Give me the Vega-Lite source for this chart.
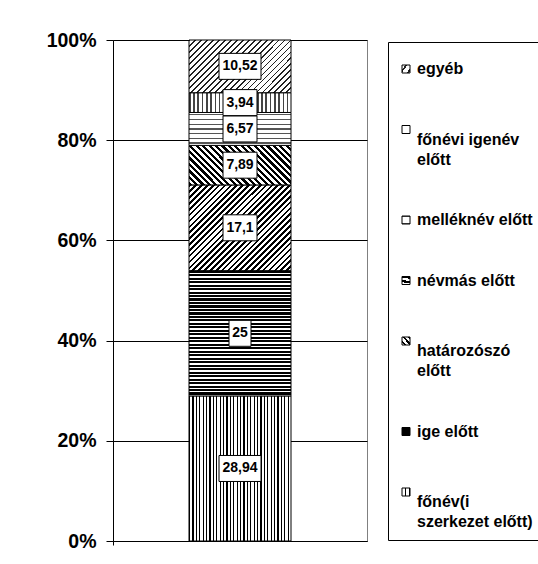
{
"$schema":"https://vega.github.io/schema/vega-lite/v6.json",
"width":254,"height":501,
"autosize":{"type":"none"},
"padding":{"left":113,"top":40,"right":171,"bottom":23},
"background":"white",
"config":{"view":{"stroke":"#808080","strokeWidth":1},"font":"Liberation Sans","locale":{"number":{"decimal":",","thousands":" ","grouping":[3],"currency":[""," Ft"]}},
"axisY":{"title":null,"format":"%","tickCount":5,"labelFont":"Liberation Sans","labelFontSize":19.5,"labelFontWeight":"bold","labelColor":"black","labelPadding":10,"labelFlush":false,"labelOverlap":false,"tickSize":7,"tickColor":"black","domainColor":"black","grid":true,"gridColor":"black"}},
"params":[
{"name":"gEgyeb","value":{"gradient":"linear","x1":-0.099,"y1":0.191,"x2":1.099,"y2":0.809,"stops":[
{"offset":0,"color":"#222"},{"offset":0.0115,"color":"#222"},{"offset":0.0115,"color":"#fff"},{"offset":0.0385,"color":"#fff"},
{"offset":0.0385,"color":"#222"},{"offset":0.05,"color":"#222"},{"offset":0.05,"color":"#fff"},{"offset":0.0769,"color":"#fff"},
{"offset":0.0769,"color":"#222"},{"offset":0.0884,"color":"#222"},{"offset":0.0884,"color":"#fff"},{"offset":0.1154,"color":"#fff"},
{"offset":0.1154,"color":"#222"},{"offset":0.1269,"color":"#222"},{"offset":0.1269,"color":"#fff"},{"offset":0.1538,"color":"#fff"},
{"offset":0.1538,"color":"#222"},{"offset":0.1653,"color":"#222"},{"offset":0.1653,"color":"#fff"},{"offset":0.1923,"color":"#fff"},
{"offset":0.1923,"color":"#222"},{"offset":0.2038,"color":"#222"},{"offset":0.2038,"color":"#fff"},{"offset":0.2308,"color":"#fff"},
{"offset":0.2308,"color":"#222"},{"offset":0.2423,"color":"#222"},{"offset":0.2423,"color":"#fff"},{"offset":0.2692,"color":"#fff"},
{"offset":0.2692,"color":"#222"},{"offset":0.2807,"color":"#222"},{"offset":0.2807,"color":"#fff"},{"offset":0.3077,"color":"#fff"},
{"offset":0.3077,"color":"#222"},{"offset":0.3192,"color":"#222"},{"offset":0.3192,"color":"#fff"},{"offset":0.3462,"color":"#fff"},
{"offset":0.3462,"color":"#222"},{"offset":0.3577,"color":"#222"},{"offset":0.3577,"color":"#fff"},{"offset":0.3846,"color":"#fff"},
{"offset":0.3846,"color":"#222"},{"offset":0.3961,"color":"#222"},{"offset":0.3961,"color":"#fff"},{"offset":0.4231,"color":"#fff"},
{"offset":0.4231,"color":"#222"},{"offset":0.4346,"color":"#222"},{"offset":0.4346,"color":"#fff"},{"offset":0.4615,"color":"#fff"},
{"offset":0.4615,"color":"#222"},{"offset":0.473,"color":"#222"},{"offset":0.473,"color":"#fff"},{"offset":0.5,"color":"#fff"},
{"offset":0.5,"color":"#222"},{"offset":0.5115,"color":"#222"},{"offset":0.5115,"color":"#fff"},{"offset":0.5385,"color":"#fff"},
{"offset":0.5385,"color":"#222"},{"offset":0.55,"color":"#222"},{"offset":0.55,"color":"#fff"},{"offset":0.5769,"color":"#fff"},
{"offset":0.5769,"color":"#222"},{"offset":0.5884,"color":"#222"},{"offset":0.5884,"color":"#fff"},{"offset":0.6154,"color":"#fff"},
{"offset":0.6154,"color":"#222"},{"offset":0.6269,"color":"#222"},{"offset":0.6269,"color":"#fff"},{"offset":0.6538,"color":"#fff"},
{"offset":0.6538,"color":"#222"},{"offset":0.6653,"color":"#222"},{"offset":0.6653,"color":"#fff"},{"offset":0.6923,"color":"#fff"},
{"offset":0.6923,"color":"#222"},{"offset":0.7038,"color":"#222"},{"offset":0.7038,"color":"#fff"},{"offset":0.7308,"color":"#fff"},
{"offset":0.7308,"color":"#222"},{"offset":0.7423,"color":"#222"},{"offset":0.7423,"color":"#fff"},{"offset":0.7692,"color":"#fff"},
{"offset":0.7692,"color":"#222"},{"offset":0.7807,"color":"#222"},{"offset":0.7807,"color":"#fff"},{"offset":0.8077,"color":"#fff"},
{"offset":0.8077,"color":"#222"},{"offset":0.8192,"color":"#222"},{"offset":0.8192,"color":"#fff"},{"offset":0.8462,"color":"#fff"},
{"offset":0.8462,"color":"#222"},{"offset":0.8577,"color":"#222"},{"offset":0.8577,"color":"#fff"},{"offset":0.8846,"color":"#fff"},
{"offset":0.8846,"color":"#222"},{"offset":0.8961,"color":"#222"},{"offset":0.8961,"color":"#fff"},{"offset":0.9231,"color":"#fff"},
{"offset":0.9231,"color":"#222"},{"offset":0.9346,"color":"#222"},{"offset":0.9346,"color":"#fff"},{"offset":0.9615,"color":"#fff"},
{"offset":0.9615,"color":"#222"},{"offset":0.973,"color":"#222"},{"offset":0.973,"color":"#fff"},{"offset":1,"color":"#fff"}]}},
{"name":"gFonevi","value":{"gradient":"linear","x1":0,"y1":0,"x2":1,"y2":0,"stops":[
{"offset":0,"color":"#444"},{"offset":0.0167,"color":"#444"},{"offset":0.0167,"color":"#fff"},{"offset":0.0417,"color":"#fff"},
{"offset":0.0417,"color":"#444"},{"offset":0.0584,"color":"#444"},{"offset":0.0584,"color":"#fff"},{"offset":0.0833,"color":"#fff"},
{"offset":0.0833,"color":"#444"},{"offset":0.1,"color":"#444"},{"offset":0.1,"color":"#fff"},{"offset":0.125,"color":"#fff"},
{"offset":0.125,"color":"#444"},{"offset":0.1417,"color":"#444"},{"offset":0.1417,"color":"#fff"},{"offset":0.1667,"color":"#fff"},
{"offset":0.1667,"color":"#444"},{"offset":0.1834,"color":"#444"},{"offset":0.1834,"color":"#fff"},{"offset":0.2083,"color":"#fff"},
{"offset":0.2083,"color":"#444"},{"offset":0.225,"color":"#444"},{"offset":0.225,"color":"#fff"},{"offset":0.25,"color":"#fff"},
{"offset":0.25,"color":"#444"},{"offset":0.2667,"color":"#444"},{"offset":0.2667,"color":"#fff"},{"offset":0.2917,"color":"#fff"},
{"offset":0.2917,"color":"#444"},{"offset":0.3084,"color":"#444"},{"offset":0.3084,"color":"#fff"},{"offset":0.3333,"color":"#fff"},
{"offset":0.3333,"color":"#444"},{"offset":0.35,"color":"#444"},{"offset":0.35,"color":"#fff"},{"offset":0.375,"color":"#fff"},
{"offset":0.375,"color":"#444"},{"offset":0.3917,"color":"#444"},{"offset":0.3917,"color":"#fff"},{"offset":0.4167,"color":"#fff"},
{"offset":0.4167,"color":"#444"},{"offset":0.4334,"color":"#444"},{"offset":0.4334,"color":"#fff"},{"offset":0.4583,"color":"#fff"},
{"offset":0.4583,"color":"#444"},{"offset":0.475,"color":"#444"},{"offset":0.475,"color":"#fff"},{"offset":0.5,"color":"#fff"},
{"offset":0.5,"color":"#444"},{"offset":0.5167,"color":"#444"},{"offset":0.5167,"color":"#fff"},{"offset":0.5417,"color":"#fff"},
{"offset":0.5417,"color":"#444"},{"offset":0.5584,"color":"#444"},{"offset":0.5584,"color":"#fff"},{"offset":0.5833,"color":"#fff"},
{"offset":0.5833,"color":"#444"},{"offset":0.6,"color":"#444"},{"offset":0.6,"color":"#fff"},{"offset":0.625,"color":"#fff"},
{"offset":0.625,"color":"#444"},{"offset":0.6417,"color":"#444"},{"offset":0.6417,"color":"#fff"},{"offset":0.6667,"color":"#fff"},
{"offset":0.6667,"color":"#444"},{"offset":0.6834,"color":"#444"},{"offset":0.6834,"color":"#fff"},{"offset":0.7083,"color":"#fff"},
{"offset":0.7083,"color":"#444"},{"offset":0.725,"color":"#444"},{"offset":0.725,"color":"#fff"},{"offset":0.75,"color":"#fff"},
{"offset":0.75,"color":"#444"},{"offset":0.7667,"color":"#444"},{"offset":0.7667,"color":"#fff"},{"offset":0.7917,"color":"#fff"},
{"offset":0.7917,"color":"#444"},{"offset":0.8084,"color":"#444"},{"offset":0.8084,"color":"#fff"},{"offset":0.8333,"color":"#fff"},
{"offset":0.8333,"color":"#444"},{"offset":0.85,"color":"#444"},{"offset":0.85,"color":"#fff"},{"offset":0.875,"color":"#fff"},
{"offset":0.875,"color":"#444"},{"offset":0.8917,"color":"#444"},{"offset":0.8917,"color":"#fff"},{"offset":0.9167,"color":"#fff"},
{"offset":0.9167,"color":"#444"},{"offset":0.9334,"color":"#444"},{"offset":0.9334,"color":"#fff"},{"offset":0.9583,"color":"#fff"},
{"offset":0.9583,"color":"#444"},{"offset":0.975,"color":"#444"},{"offset":0.975,"color":"#fff"},{"offset":1,"color":"#fff"}]}},
{"name":"gMellek","value":{"gradient":"linear","x1":0,"y1":0,"x2":0,"y2":1,"stops":[
{"offset":0,"color":"#fff"},
{"offset":0.0536,"color":"#fff"},{"offset":0.0536,"color":"#555"},{"offset":0.0893,"color":"#555"},{"offset":0.0893,"color":"#fff"},
{"offset":0.1964,"color":"#fff"},{"offset":0.1964,"color":"#555"},{"offset":0.2321,"color":"#555"},{"offset":0.2321,"color":"#fff"},
{"offset":0.3393,"color":"#fff"},{"offset":0.3393,"color":"#555"},{"offset":0.375,"color":"#555"},{"offset":0.375,"color":"#fff"},
{"offset":0.4821,"color":"#fff"},{"offset":0.4821,"color":"#555"},{"offset":0.5179,"color":"#555"},{"offset":0.5179,"color":"#fff"},
{"offset":0.625,"color":"#fff"},{"offset":0.625,"color":"#555"},{"offset":0.6607,"color":"#555"},{"offset":0.6607,"color":"#fff"},
{"offset":0.7679,"color":"#fff"},{"offset":0.7679,"color":"#555"},{"offset":0.8036,"color":"#555"},{"offset":0.8036,"color":"#fff"},
{"offset":0.9107,"color":"#fff"},{"offset":0.9107,"color":"#555"},{"offset":0.9464,"color":"#555"},{"offset":0.9464,"color":"#fff"},
{"offset":1,"color":"#fff"}]}},
{"name":"gNevmas","value":{"gradient":"linear","x1":-0.103,"y1":0.733,"x2":1.103,"y2":0.267,"stops":[
{"offset":0,"color":"#000"},{"offset":0.0227,"color":"#000"},{"offset":0.0227,"color":"#fff"},{"offset":0.0455,"color":"#fff"},
{"offset":0.0455,"color":"#000"},{"offset":0.0682,"color":"#000"},{"offset":0.0682,"color":"#fff"},{"offset":0.0909,"color":"#fff"},
{"offset":0.0909,"color":"#000"},{"offset":0.1136,"color":"#000"},{"offset":0.1136,"color":"#fff"},{"offset":0.1364,"color":"#fff"},
{"offset":0.1364,"color":"#000"},{"offset":0.1591,"color":"#000"},{"offset":0.1591,"color":"#fff"},{"offset":0.1818,"color":"#fff"},
{"offset":0.1818,"color":"#000"},{"offset":0.2045,"color":"#000"},{"offset":0.2045,"color":"#fff"},{"offset":0.2273,"color":"#fff"},
{"offset":0.2273,"color":"#000"},{"offset":0.25,"color":"#000"},{"offset":0.25,"color":"#fff"},{"offset":0.2727,"color":"#fff"},
{"offset":0.2727,"color":"#000"},{"offset":0.2955,"color":"#000"},{"offset":0.2955,"color":"#fff"},{"offset":0.3182,"color":"#fff"},
{"offset":0.3182,"color":"#000"},{"offset":0.3409,"color":"#000"},{"offset":0.3409,"color":"#fff"},{"offset":0.3636,"color":"#fff"},
{"offset":0.3636,"color":"#000"},{"offset":0.3864,"color":"#000"},{"offset":0.3864,"color":"#fff"},{"offset":0.4091,"color":"#fff"},
{"offset":0.4091,"color":"#000"},{"offset":0.4318,"color":"#000"},{"offset":0.4318,"color":"#fff"},{"offset":0.4545,"color":"#fff"},
{"offset":0.4545,"color":"#000"},{"offset":0.4773,"color":"#000"},{"offset":0.4773,"color":"#fff"},{"offset":0.5,"color":"#fff"},
{"offset":0.5,"color":"#000"},{"offset":0.5227,"color":"#000"},{"offset":0.5227,"color":"#fff"},{"offset":0.5455,"color":"#fff"},
{"offset":0.5455,"color":"#000"},{"offset":0.5682,"color":"#000"},{"offset":0.5682,"color":"#fff"},{"offset":0.5909,"color":"#fff"},
{"offset":0.5909,"color":"#000"},{"offset":0.6136,"color":"#000"},{"offset":0.6136,"color":"#fff"},{"offset":0.6364,"color":"#fff"},
{"offset":0.6364,"color":"#000"},{"offset":0.6591,"color":"#000"},{"offset":0.6591,"color":"#fff"},{"offset":0.6818,"color":"#fff"},
{"offset":0.6818,"color":"#000"},{"offset":0.7045,"color":"#000"},{"offset":0.7045,"color":"#fff"},{"offset":0.7273,"color":"#fff"},
{"offset":0.7273,"color":"#000"},{"offset":0.75,"color":"#000"},{"offset":0.75,"color":"#fff"},{"offset":0.7727,"color":"#fff"},
{"offset":0.7727,"color":"#000"},{"offset":0.7955,"color":"#000"},{"offset":0.7955,"color":"#fff"},{"offset":0.8182,"color":"#fff"},
{"offset":0.8182,"color":"#000"},{"offset":0.8409,"color":"#000"},{"offset":0.8409,"color":"#fff"},{"offset":0.8636,"color":"#fff"},
{"offset":0.8636,"color":"#000"},{"offset":0.8864,"color":"#000"},{"offset":0.8864,"color":"#fff"},{"offset":0.9091,"color":"#fff"},
{"offset":0.9091,"color":"#000"},{"offset":0.9318,"color":"#000"},{"offset":0.9318,"color":"#fff"},{"offset":0.9545,"color":"#fff"},
{"offset":0.9545,"color":"#000"},{"offset":0.9773,"color":"#000"},{"offset":0.9773,"color":"#fff"},{"offset":1,"color":"#fff"}]}},
{"name":"gHatar","value":{"gradient":"linear","x1":-0.039,"y1":0.047,"x2":1.039,"y2":0.953,"stops":[
{"offset":0,"color":"#000"},{"offset":0.0141,"color":"#000"},{"offset":0.0141,"color":"#fff"},{"offset":0.0313,"color":"#fff"},
{"offset":0.0313,"color":"#000"},{"offset":0.0453,"color":"#000"},{"offset":0.0453,"color":"#fff"},{"offset":0.0625,"color":"#fff"},
{"offset":0.0625,"color":"#000"},{"offset":0.0766,"color":"#000"},{"offset":0.0766,"color":"#fff"},{"offset":0.0938,"color":"#fff"},
{"offset":0.0938,"color":"#000"},{"offset":0.1078,"color":"#000"},{"offset":0.1078,"color":"#fff"},{"offset":0.125,"color":"#fff"},
{"offset":0.125,"color":"#000"},{"offset":0.1391,"color":"#000"},{"offset":0.1391,"color":"#fff"},{"offset":0.1563,"color":"#fff"},
{"offset":0.1563,"color":"#000"},{"offset":0.1703,"color":"#000"},{"offset":0.1703,"color":"#fff"},{"offset":0.1875,"color":"#fff"},
{"offset":0.1875,"color":"#000"},{"offset":0.2016,"color":"#000"},{"offset":0.2016,"color":"#fff"},{"offset":0.2188,"color":"#fff"},
{"offset":0.2188,"color":"#000"},{"offset":0.2328,"color":"#000"},{"offset":0.2328,"color":"#fff"},{"offset":0.25,"color":"#fff"},
{"offset":0.25,"color":"#000"},{"offset":0.2641,"color":"#000"},{"offset":0.2641,"color":"#fff"},{"offset":0.2813,"color":"#fff"},
{"offset":0.2813,"color":"#000"},{"offset":0.2953,"color":"#000"},{"offset":0.2953,"color":"#fff"},{"offset":0.3125,"color":"#fff"},
{"offset":0.3125,"color":"#000"},{"offset":0.3266,"color":"#000"},{"offset":0.3266,"color":"#fff"},{"offset":0.3438,"color":"#fff"},
{"offset":0.3438,"color":"#000"},{"offset":0.3578,"color":"#000"},{"offset":0.3578,"color":"#fff"},{"offset":0.375,"color":"#fff"},
{"offset":0.375,"color":"#000"},{"offset":0.3891,"color":"#000"},{"offset":0.3891,"color":"#fff"},{"offset":0.4063,"color":"#fff"},
{"offset":0.4063,"color":"#000"},{"offset":0.4203,"color":"#000"},{"offset":0.4203,"color":"#fff"},{"offset":0.4375,"color":"#fff"},
{"offset":0.4375,"color":"#000"},{"offset":0.4516,"color":"#000"},{"offset":0.4516,"color":"#fff"},{"offset":0.4688,"color":"#fff"},
{"offset":0.4688,"color":"#000"},{"offset":0.4828,"color":"#000"},{"offset":0.4828,"color":"#fff"},{"offset":0.5,"color":"#fff"},
{"offset":0.5,"color":"#000"},{"offset":0.5141,"color":"#000"},{"offset":0.5141,"color":"#fff"},{"offset":0.5313,"color":"#fff"},
{"offset":0.5313,"color":"#000"},{"offset":0.5453,"color":"#000"},{"offset":0.5453,"color":"#fff"},{"offset":0.5625,"color":"#fff"},
{"offset":0.5625,"color":"#000"},{"offset":0.5766,"color":"#000"},{"offset":0.5766,"color":"#fff"},{"offset":0.5938,"color":"#fff"},
{"offset":0.5938,"color":"#000"},{"offset":0.6078,"color":"#000"},{"offset":0.6078,"color":"#fff"},{"offset":0.625,"color":"#fff"},
{"offset":0.625,"color":"#000"},{"offset":0.6391,"color":"#000"},{"offset":0.6391,"color":"#fff"},{"offset":0.6563,"color":"#fff"},
{"offset":0.6563,"color":"#000"},{"offset":0.6703,"color":"#000"},{"offset":0.6703,"color":"#fff"},{"offset":0.6875,"color":"#fff"},
{"offset":0.6875,"color":"#000"},{"offset":0.7016,"color":"#000"},{"offset":0.7016,"color":"#fff"},{"offset":0.7188,"color":"#fff"},
{"offset":0.7188,"color":"#000"},{"offset":0.7328,"color":"#000"},{"offset":0.7328,"color":"#fff"},{"offset":0.75,"color":"#fff"},
{"offset":0.75,"color":"#000"},{"offset":0.7641,"color":"#000"},{"offset":0.7641,"color":"#fff"},{"offset":0.7813,"color":"#fff"},
{"offset":0.7813,"color":"#000"},{"offset":0.7953,"color":"#000"},{"offset":0.7953,"color":"#fff"},{"offset":0.8125,"color":"#fff"},
{"offset":0.8125,"color":"#000"},{"offset":0.8266,"color":"#000"},{"offset":0.8266,"color":"#fff"},{"offset":0.8438,"color":"#fff"},
{"offset":0.8438,"color":"#000"},{"offset":0.8578,"color":"#000"},{"offset":0.8578,"color":"#fff"},{"offset":0.875,"color":"#fff"},
{"offset":0.875,"color":"#000"},{"offset":0.8891,"color":"#000"},{"offset":0.8891,"color":"#fff"},{"offset":0.9063,"color":"#fff"},
{"offset":0.9063,"color":"#000"},{"offset":0.9203,"color":"#000"},{"offset":0.9203,"color":"#fff"},{"offset":0.9375,"color":"#fff"},
{"offset":0.9375,"color":"#000"},{"offset":0.9516,"color":"#000"},{"offset":0.9516,"color":"#fff"},{"offset":0.9688,"color":"#fff"},
{"offset":0.9688,"color":"#000"},{"offset":0.9828,"color":"#000"},{"offset":0.9828,"color":"#fff"},{"offset":1,"color":"#fff"}]}},
{"name":"gIge","value":{"gradient":"linear","x1":0,"y1":0,"x2":0,"y2":1,"stops":[
{"offset":0,"color":"#000"},{"offset":0.0167,"color":"#000"},{"offset":0.0167,"color":"#fff"},{"offset":0.0278,"color":"#fff"},
{"offset":0.0278,"color":"#000"},{"offset":0.0444,"color":"#000"},{"offset":0.0444,"color":"#fff"},{"offset":0.0556,"color":"#fff"},
{"offset":0.0556,"color":"#000"},{"offset":0.0722,"color":"#000"},{"offset":0.0722,"color":"#fff"},{"offset":0.0833,"color":"#fff"},
{"offset":0.0833,"color":"#000"},{"offset":0.1,"color":"#000"},{"offset":0.1,"color":"#fff"},{"offset":0.1111,"color":"#fff"},
{"offset":0.1111,"color":"#000"},{"offset":0.1278,"color":"#000"},{"offset":0.1278,"color":"#fff"},{"offset":0.1389,"color":"#fff"},
{"offset":0.1389,"color":"#000"},{"offset":0.1556,"color":"#000"},{"offset":0.1556,"color":"#fff"},{"offset":0.1667,"color":"#fff"},
{"offset":0.1667,"color":"#000"},{"offset":0.1833,"color":"#000"},{"offset":0.1833,"color":"#fff"},{"offset":0.1944,"color":"#fff"},
{"offset":0.1944,"color":"#000"},{"offset":0.2111,"color":"#000"},{"offset":0.2111,"color":"#fff"},{"offset":0.2222,"color":"#fff"},
{"offset":0.2222,"color":"#000"},{"offset":0.2389,"color":"#000"},{"offset":0.2389,"color":"#fff"},{"offset":0.25,"color":"#fff"},
{"offset":0.25,"color":"#000"},{"offset":0.2667,"color":"#000"},{"offset":0.2667,"color":"#fff"},{"offset":0.2778,"color":"#fff"},
{"offset":0.2778,"color":"#000"},{"offset":0.2944,"color":"#000"},{"offset":0.2944,"color":"#fff"},{"offset":0.3056,"color":"#fff"},
{"offset":0.3056,"color":"#000"},{"offset":0.3222,"color":"#000"},{"offset":0.3222,"color":"#fff"},{"offset":0.3333,"color":"#fff"},
{"offset":0.3333,"color":"#000"},{"offset":0.35,"color":"#000"},{"offset":0.35,"color":"#fff"},{"offset":0.3611,"color":"#fff"},
{"offset":0.3611,"color":"#000"},{"offset":0.3778,"color":"#000"},{"offset":0.3778,"color":"#fff"},{"offset":0.3889,"color":"#fff"},
{"offset":0.3889,"color":"#000"},{"offset":0.4056,"color":"#000"},{"offset":0.4056,"color":"#fff"},{"offset":0.4167,"color":"#fff"},
{"offset":0.4167,"color":"#000"},{"offset":0.4333,"color":"#000"},{"offset":0.4333,"color":"#fff"},{"offset":0.4444,"color":"#fff"},
{"offset":0.4444,"color":"#000"},{"offset":0.4611,"color":"#000"},{"offset":0.4611,"color":"#fff"},{"offset":0.4722,"color":"#fff"},
{"offset":0.4722,"color":"#000"},{"offset":0.4889,"color":"#000"},{"offset":0.4889,"color":"#fff"},{"offset":0.5,"color":"#fff"},
{"offset":0.5,"color":"#000"},{"offset":0.5167,"color":"#000"},{"offset":0.5167,"color":"#fff"},{"offset":0.5278,"color":"#fff"},
{"offset":0.5278,"color":"#000"},{"offset":0.5444,"color":"#000"},{"offset":0.5444,"color":"#fff"},{"offset":0.5556,"color":"#fff"},
{"offset":0.5556,"color":"#000"},{"offset":0.5722,"color":"#000"},{"offset":0.5722,"color":"#fff"},{"offset":0.5833,"color":"#fff"},
{"offset":0.5833,"color":"#000"},{"offset":0.6,"color":"#000"},{"offset":0.6,"color":"#fff"},{"offset":0.6111,"color":"#fff"},
{"offset":0.6111,"color":"#000"},{"offset":0.6278,"color":"#000"},{"offset":0.6278,"color":"#fff"},{"offset":0.6389,"color":"#fff"},
{"offset":0.6389,"color":"#000"},{"offset":0.6556,"color":"#000"},{"offset":0.6556,"color":"#fff"},{"offset":0.6667,"color":"#fff"},
{"offset":0.6667,"color":"#000"},{"offset":0.6833,"color":"#000"},{"offset":0.6833,"color":"#fff"},{"offset":0.6944,"color":"#fff"},
{"offset":0.6944,"color":"#000"},{"offset":0.7111,"color":"#000"},{"offset":0.7111,"color":"#fff"},{"offset":0.7222,"color":"#fff"},
{"offset":0.7222,"color":"#000"},{"offset":0.7389,"color":"#000"},{"offset":0.7389,"color":"#fff"},{"offset":0.75,"color":"#fff"},
{"offset":0.75,"color":"#000"},{"offset":0.7667,"color":"#000"},{"offset":0.7667,"color":"#fff"},{"offset":0.7778,"color":"#fff"},
{"offset":0.7778,"color":"#000"},{"offset":0.7944,"color":"#000"},{"offset":0.7944,"color":"#fff"},{"offset":0.8056,"color":"#fff"},
{"offset":0.8056,"color":"#000"},{"offset":0.8222,"color":"#000"},{"offset":0.8222,"color":"#fff"},{"offset":0.8333,"color":"#fff"},
{"offset":0.8333,"color":"#000"},{"offset":0.85,"color":"#000"},{"offset":0.85,"color":"#fff"},{"offset":0.8611,"color":"#fff"},
{"offset":0.8611,"color":"#000"},{"offset":0.8778,"color":"#000"},{"offset":0.8778,"color":"#fff"},{"offset":0.8889,"color":"#fff"},
{"offset":0.8889,"color":"#000"},{"offset":0.9056,"color":"#000"},{"offset":0.9056,"color":"#fff"},{"offset":0.9167,"color":"#fff"},
{"offset":0.9167,"color":"#000"},{"offset":0.9333,"color":"#000"},{"offset":0.9333,"color":"#fff"},{"offset":0.9444,"color":"#fff"},
{"offset":0.9444,"color":"#000"},{"offset":0.9611,"color":"#000"},{"offset":0.9611,"color":"#fff"},{"offset":0.9722,"color":"#fff"},
{"offset":0.9722,"color":"#000"},{"offset":0.9889,"color":"#000"},{"offset":0.9889,"color":"#fff"},{"offset":1,"color":"#fff"}]}},
{"name":"gFonev","value":{"gradient":"linear","x1":0,"y1":0,"x2":1,"y2":0,"stops":[
{"offset":0,"color":"#000"},{"offset":0.012,"color":"#000"},{"offset":0.012,"color":"#fff"},{"offset":0.0333,"color":"#fff"},
{"offset":0.0333,"color":"#000"},{"offset":0.0453,"color":"#000"},{"offset":0.0453,"color":"#fff"},{"offset":0.0667,"color":"#fff"},
{"offset":0.0667,"color":"#000"},{"offset":0.0787,"color":"#000"},{"offset":0.0787,"color":"#fff"},{"offset":0.1,"color":"#fff"},
{"offset":0.1,"color":"#000"},{"offset":0.112,"color":"#000"},{"offset":0.112,"color":"#fff"},{"offset":0.1333,"color":"#fff"},
{"offset":0.1333,"color":"#000"},{"offset":0.1453,"color":"#000"},{"offset":0.1453,"color":"#fff"},{"offset":0.1667,"color":"#fff"},
{"offset":0.1667,"color":"#000"},{"offset":0.1787,"color":"#000"},{"offset":0.1787,"color":"#fff"},{"offset":0.2,"color":"#fff"},
{"offset":0.2,"color":"#000"},{"offset":0.212,"color":"#000"},{"offset":0.212,"color":"#fff"},{"offset":0.2333,"color":"#fff"},
{"offset":0.2333,"color":"#000"},{"offset":0.2453,"color":"#000"},{"offset":0.2453,"color":"#fff"},{"offset":0.2667,"color":"#fff"},
{"offset":0.2667,"color":"#000"},{"offset":0.2787,"color":"#000"},{"offset":0.2787,"color":"#fff"},{"offset":0.3,"color":"#fff"},
{"offset":0.3,"color":"#000"},{"offset":0.312,"color":"#000"},{"offset":0.312,"color":"#fff"},{"offset":0.3333,"color":"#fff"},
{"offset":0.3333,"color":"#000"},{"offset":0.3453,"color":"#000"},{"offset":0.3453,"color":"#fff"},{"offset":0.3667,"color":"#fff"},
{"offset":0.3667,"color":"#000"},{"offset":0.3787,"color":"#000"},{"offset":0.3787,"color":"#fff"},{"offset":0.4,"color":"#fff"},
{"offset":0.4,"color":"#000"},{"offset":0.412,"color":"#000"},{"offset":0.412,"color":"#fff"},{"offset":0.4333,"color":"#fff"},
{"offset":0.4333,"color":"#000"},{"offset":0.4453,"color":"#000"},{"offset":0.4453,"color":"#fff"},{"offset":0.4667,"color":"#fff"},
{"offset":0.4667,"color":"#000"},{"offset":0.4787,"color":"#000"},{"offset":0.4787,"color":"#fff"},{"offset":0.5,"color":"#fff"},
{"offset":0.5,"color":"#000"},{"offset":0.512,"color":"#000"},{"offset":0.512,"color":"#fff"},{"offset":0.5333,"color":"#fff"},
{"offset":0.5333,"color":"#000"},{"offset":0.5453,"color":"#000"},{"offset":0.5453,"color":"#fff"},{"offset":0.5667,"color":"#fff"},
{"offset":0.5667,"color":"#000"},{"offset":0.5787,"color":"#000"},{"offset":0.5787,"color":"#fff"},{"offset":0.6,"color":"#fff"},
{"offset":0.6,"color":"#000"},{"offset":0.612,"color":"#000"},{"offset":0.612,"color":"#fff"},{"offset":0.6333,"color":"#fff"},
{"offset":0.6333,"color":"#000"},{"offset":0.6453,"color":"#000"},{"offset":0.6453,"color":"#fff"},{"offset":0.6667,"color":"#fff"},
{"offset":0.6667,"color":"#000"},{"offset":0.6787,"color":"#000"},{"offset":0.6787,"color":"#fff"},{"offset":0.7,"color":"#fff"},
{"offset":0.7,"color":"#000"},{"offset":0.712,"color":"#000"},{"offset":0.712,"color":"#fff"},{"offset":0.7333,"color":"#fff"},
{"offset":0.7333,"color":"#000"},{"offset":0.7453,"color":"#000"},{"offset":0.7453,"color":"#fff"},{"offset":0.7667,"color":"#fff"},
{"offset":0.7667,"color":"#000"},{"offset":0.7787,"color":"#000"},{"offset":0.7787,"color":"#fff"},{"offset":0.8,"color":"#fff"},
{"offset":0.8,"color":"#000"},{"offset":0.812,"color":"#000"},{"offset":0.812,"color":"#fff"},{"offset":0.8333,"color":"#fff"},
{"offset":0.8333,"color":"#000"},{"offset":0.8453,"color":"#000"},{"offset":0.8453,"color":"#fff"},{"offset":0.8667,"color":"#fff"},
{"offset":0.8667,"color":"#000"},{"offset":0.8787,"color":"#000"},{"offset":0.8787,"color":"#fff"},{"offset":0.9,"color":"#fff"},
{"offset":0.9,"color":"#000"},{"offset":0.912,"color":"#000"},{"offset":0.912,"color":"#fff"},{"offset":0.9333,"color":"#fff"},
{"offset":0.9333,"color":"#000"},{"offset":0.9453,"color":"#000"},{"offset":0.9453,"color":"#fff"},{"offset":0.9667,"color":"#fff"},
{"offset":0.9667,"color":"#000"},{"offset":0.9787,"color":"#000"},{"offset":0.9787,"color":"#fff"},{"offset":1,"color":"#fff"}]}}
],
"data":{"values":[
{"cat":"főnév(i szerkezet előtt)","value":28.94},
{"cat":"ige előtt","value":25},
{"cat":"határozószó előtt","value":17.1},
{"cat":"névmás előtt","value":7.89},
{"cat":"melléknév előtt","value":6.57},
{"cat":"főnévi igenév előtt","value":3.94},
{"cat":"egyéb","value":10.52}
]},
"transform":[{"window":[{"op":"row_number","as":"idx"}]}],
"encoding":{"x":{"datum":"a","type":"nominal","scale":{"paddingInner":0,"paddingOuter":0},"axis":{"title":null,"labels":false,"domainColor":"black","tickColor":"black","tickSize":4,"bandPosition":0,"grid":false}}},
"layer":[
{"mark":{"type":"bar","size":102,"stroke":"black","strokeWidth":1},
"encoding":{
"y":{"field":"value","type":"quantitative","stack":"normalize","scale":{"domain":[0,1]},"title":null},
"order":{"field":"idx","type":"quantitative"},
"color":{"field":"cat","type":"nominal",
"scale":{"domain":["egyéb","főnévi igenév előtt","melléknév előtt","névmás előtt","határozószó előtt","ige előtt","főnév(i szerkezet előtt)"],
"range":[{"expr":"gEgyeb"},{"expr":"gFonevi"},{"expr":"gMellek"},{"expr":"gNevmas"},{"expr":"gHatar"},{"expr":"gIge"},{"expr":"gFonev"}]},
"legend":{"title":" ","orient":"none","legendX":275,"legendY":2,"strokeColor":"black","fillColor":"white","padding":10,"titleFontSize":5,"titlePadding":4,"labelFont":"Liberation Sans","labelFontSize":16,"labelFontWeight":"bold","labelColor":"black","labelOffset":3,"labelLimit":200,"symbolType":"square","symbolSize":64,"symbolStrokeColor":"black","symbolStrokeWidth":1,"rowPadding":44.5,
"labelExpr":"datum.label == 'főnévi igenév előtt' ? ['főnévi igenév', 'előtt'] : datum.label == 'határozószó előtt' ? ['határozószó', 'előtt'] : datum.label == 'főnév(i szerkezet előtt)' ? ['főnév(i', 'szerkezet előtt)'] : datum.label",
"encode":{
"symbols":{"update":{"stroke":{"value":"black"},"strokeWidth":{"value":1},"strokeOpacity":{"value":1},"fillOpacity":{"value":1},"fill":{"signal":"datum.value == 'egyéb' ? {gradient:'linear',x1:0,y1:0,x2:1,y2:1,stops:[{offset:0,color:'#fff'},{offset:0.4,color:'#fff'},{offset:0.4,color:'#000'},{offset:0.58,color:'#000'},{offset:0.58,color:'#fff'},{offset:1,color:'#fff'}]} : datum.value == 'főnévi igenév előtt' ? {gradient:'linear',x1:0,y1:0,x2:1,y2:0,stops:[{offset:0,color:'#fff'},{offset:0.3,color:'#fff'},{offset:0.3,color:'#444'},{offset:0.45,color:'#444'},{offset:0.45,color:'#fff'},{offset:0.6,color:'#fff'},{offset:0.6,color:'#444'},{offset:0.75,color:'#444'},{offset:0.75,color:'#fff'},{offset:1,color:'#fff'}]} : datum.value == 'melléknév előtt' ? {gradient:'linear',x1:0,y1:0,x2:0,y2:1,stops:[{offset:0,color:'#fff'},{offset:0.42,color:'#fff'},{offset:0.42,color:'#000'},{offset:0.6,color:'#000'},{offset:0.6,color:'#fff'},{offset:1,color:'#fff'}]} : datum.value == 'névmás előtt' ? {gradient:'linear',x1:0,y1:1,x2:1,y2:0,stops:[{offset:0,color:'#fff'},{offset:0.15,color:'#fff'},{offset:0.15,color:'#000'},{offset:0.3,color:'#000'},{offset:0.3,color:'#fff'},{offset:0.42,color:'#fff'},{offset:0.42,color:'#000'},{offset:0.58,color:'#000'},{offset:0.58,color:'#fff'},{offset:0.7,color:'#fff'},{offset:0.7,color:'#000'},{offset:0.85,color:'#000'},{offset:0.85,color:'#fff'},{offset:1,color:'#fff'}]} : datum.value == 'határozószó előtt' ? {gradient:'linear',x1:0,y1:0,x2:1,y2:1,stops:[{offset:0,color:'#fff'},{offset:0.15,color:'#fff'},{offset:0.15,color:'#000'},{offset:0.3,color:'#000'},{offset:0.3,color:'#fff'},{offset:0.42,color:'#fff'},{offset:0.42,color:'#000'},{offset:0.58,color:'#000'},{offset:0.58,color:'#fff'},{offset:0.7,color:'#fff'},{offset:0.7,color:'#000'},{offset:0.85,color:'#000'},{offset:0.85,color:'#fff'},{offset:1,color:'#fff'}]} : datum.value == 'ige előtt' ? {gradient:'linear',x1:0,y1:0,x2:0,y2:1,stops:[{offset:0,color:'#fff'},{offset:0.15,color:'#fff'},{offset:0.15,color:'#000'},{offset:0.3,color:'#000'},{offset:0.3,color:'#fff'},{offset:0.42,color:'#fff'},{offset:0.42,color:'#000'},{offset:0.58,color:'#000'},{offset:0.58,color:'#fff'},{offset:0.7,color:'#fff'},{offset:0.7,color:'#000'},{offset:0.85,color:'#000'},{offset:0.85,color:'#fff'},{offset:1,color:'#fff'}]} : {gradient:'linear',x1:0,y1:0,x2:1,y2:0,stops:[{offset:0,color:'#fff'},{offset:0.28,color:'#fff'},{offset:0.28,color:'#000'},{offset:0.42,color:'#000'},{offset:0.42,color:'#fff'},{offset:0.58,color:'#fff'},{offset:0.58,color:'#000'},{offset:0.72,color:'#000'},{offset:0.72,color:'#fff'},{offset:1,color:'#fff'}]}"}}},
"labels":{"update":{"lineHeight":{"value":20},"dy":{"signal":"indexof(['főnévi igenév előtt','határozószó előtt','főnév(i szerkezet előtt)'], datum.value) >= 0 ? 10 : 0"}}}}}
}
}},
{"mark":{"type":"point","filled":true,"fill":"white","stroke":"black","strokeWidth":1,"size":4,"opacity":1},
"encoding":{
"y":{"field":"value","type":"quantitative","stack":"normalize","bandPosition":0.5,"title":null},
"order":{"field":"idx","type":"quantitative"},
"detail":{"field":"cat"},
"shape":{"condition":[{"test":"length(format(datum.value, '.2~f')) >= 5","value":"M-21,-13H21V13H-21Z"},{"test":"length(format(datum.value, '.2~f')) <= 2","value":"M-11,-13H11V13H-11Z"}],"value":"M-17,-13H17V13H-17Z"}
}},
{"mark":{"type":"text","font":"Liberation Sans","fontWeight":"bold","fontSize":14,"color":"black","baseline":"middle","align":"center"},
"encoding":{
"y":{"field":"value","type":"quantitative","stack":"normalize","bandPosition":0.5,"title":null},
"order":{"field":"idx","type":"quantitative"},
"detail":{"field":"cat"},
"text":{"field":"value","type":"quantitative","format":".2~f"}
}}
]
}
